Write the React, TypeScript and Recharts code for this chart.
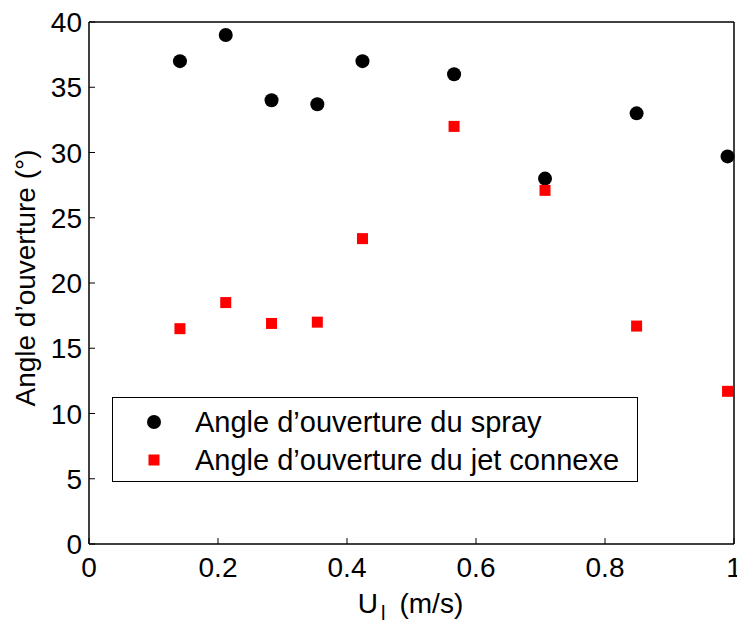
import { Label, Legend, Scatter, ScatterChart, XAxis, YAxis } from "recharts";

// U_l (m/s)
const uL = [0.141, 0.212, 0.283, 0.354, 0.424, 0.566, 0.707, 0.849, 0.99];
// opening angles (deg)
const sprayAngle = [37.0, 39.0, 34.0, 33.7, 37.0, 36.0, 28.0, 33.0, 29.7];
const jetAngle = [16.5, 18.5, 16.9, 17.0, 23.4, 32.0, 27.1, 16.7, 11.7];

const xTicks = [0, 0.2, 0.4, 0.6, 0.8, 1];
const yTicks = [0, 5, 10, 15, 20, 25, 30, 35, 40];
const seriesNames = [
  "Angle d’ouverture du spray",
  "Angle d’ouverture du jet connexe",
];

const sprayData = uL.map((x, i) => ({ x, y: sprayAngle[i] }));
const jetData = uL.map((x, i) => ({ x, y: jetAngle[i] }));

const FONT = "Liberation Sans, Arial, Helvetica, sans-serif";
const TICK_LEN = 6;
const AXIS = { stroke: "#000", strokeWidth: 1.5 };

const BottomTick = (p: any) => (
  <g>
    <line x1={p.x} x2={p.x} y1={p.y} y2={p.y - TICK_LEN} stroke="#000" />
    <text
      x={p.x}
      y={p.y + 33}
      textAnchor="middle"
      fontSize={28}
      fontFamily={FONT}
      fill="#000"
    >
      {String(p.payload.value)}
    </text>
  </g>
);

const LeftTick = (p: any) => (
  <g>
    <line x1={p.x} x2={p.x + TICK_LEN} y1={p.y} y2={p.y} stroke="#000" />
    <text
      x={p.x - 7}
      y={p.y + 10}
      textAnchor="end"
      fontSize={28}
      fontFamily={FONT}
      fill="#000"
    >
      {String(p.payload.value)}
    </text>
  </g>
);

const TopTick = (p: any) => (
  <line x1={p.x} x2={p.x} y1={p.y} y2={p.y + TICK_LEN} stroke="#000" />
);

const RightTick = (p: any) => (
  <line x1={p.x} x2={p.x - TICK_LEN} y1={p.y} y2={p.y} stroke="#000" />
);

const Dot = (p: any) => <circle cx={p.cx} cy={p.cy} r={7} fill="#000" />;
const Square = (p: any) => (
  <rect x={p.cx - 5.5} y={p.cy - 5.5} width={11} height={11} fill="#ff0000" />
);

const YLabel = (p: any) => {
  const vb = p.viewBox;
  const x = vb.x + 35;
  const y = vb.y + vb.height / 2 - 5;
  return (
    <text
      x={x}
      y={y}
      transform={`rotate(-90, ${x}, ${y})`}
      textAnchor="middle"
      fontSize={28}
      fontFamily={FONT}
      fill="#000"
    >
      Angle d’ouverture (°)
    </text>
  );
};

const XLabel = (p: any) => {
  const vb = p.viewBox;
  return (
    <text
      x={vb.x + vb.width / 2 - 1}
      y={vb.y + 69}
      textAnchor="middle"
      fontSize={28}
      fontFamily={FONT}
      fill="#000"
    >
      U
      <tspan dx={3} dy={7} fontSize={20}>
        l
      </tspan>
      <tspan dx={14} dy={-7}>
        (m/s)
      </tspan>
    </text>
  );
};

const LegendBox = (props: any) => {
  const items = [...(props.payload || [])].sort(
    (a: any, b: any) =>
      seriesNames.indexOf(a.value) - seriesNames.indexOf(b.value)
  );
  return (
    <div
      style={{
        width: 526,
        height: 85,
        boxSizing: "border-box",
        border: "1.5px solid #000",
        background: "#fff",
        position: "relative",
        fontFamily: FONT,
        fontSize: 29,
        color: "#000",
      }}
    >
      {items.map((e: any, i: number) => (
        <div
          key={e.value}
          style={{
            position: "absolute",
            left: 0,
            top: 5 + i * 38,
            height: 38,
            display: "flex",
            alignItems: "center",
            whiteSpace: "nowrap",
          }}
        >
          <svg width={20} height={20} style={{ marginLeft: 31 }}>
            {e.value === seriesNames[0] ? (
              <circle cx={10} cy={10} r={7} fill="#000" />
            ) : (
              <rect x={4.5} y={4.5} width={11} height={11} fill="#ff0000" />
            )}
          </svg>
          <span style={{ marginLeft: 31 }}>{e.value}</span>
        </div>
      ))}
    </div>
  );
};

export default function App() {
  return (
    <div
      style={{
        position: "absolute",
        left: 0,
        top: 0,
        width: 737,
        height: 621,
        background: "#fff",
      }}
    >
      <ScatterChart
        width={737}
        height={621}
        margin={{ top: 0, right: 0, bottom: 0, left: 0 }}
      >
        <XAxis
          xAxisId="b"
          type="number"
          dataKey="x"
          domain={[0, 1]}
          ticks={xTicks}
          orientation="bottom"
          height={77}
          axisLine={AXIS}
          tickLine={false}
          tickSize={0}
          tickMargin={0}
          tick={BottomTick}
          interval={0}
        >
          <Label content={XLabel} />
        </XAxis>
        <XAxis
          xAxisId="t"
          type="number"
          dataKey="x"
          domain={[0, 1]}
          ticks={xTicks}
          orientation="top"
          height={22}
          axisLine={AXIS}
          tickLine={false}
          tickSize={0}
          tickMargin={0}
          tick={TopTick}
          interval={0}
        />
        <YAxis
          yAxisId="l"
          type="number"
          dataKey="y"
          domain={[0, 40]}
          ticks={yTicks}
          orientation="left"
          width={89}
          axisLine={AXIS}
          tickLine={false}
          tickSize={0}
          tickMargin={0}
          tick={LeftTick}
          interval={0}
        >
          <Label content={YLabel} />
        </YAxis>
        <YAxis
          yAxisId="r"
          type="number"
          dataKey="y"
          domain={[0, 40]}
          ticks={yTicks}
          orientation="right"
          width={3}
          axisLine={AXIS}
          tickLine={false}
          tickSize={0}
          tickMargin={0}
          tick={RightTick}
          interval={0}
        />
        <Legend
          layout="vertical"
          align="center"
          verticalAlign="middle"
          content={LegendBox}
          wrapperStyle={{ left: 112, top: 397, width: 526, height: 85 }}
        />
        <Scatter
          name={seriesNames[0]}
          data={sprayData}
          xAxisId="b"
          yAxisId="l"
          fill="#000"
          shape={Dot}
          isAnimationActive={false}
        />
        <Scatter
          name={seriesNames[1]}
          data={jetData}
          xAxisId="b"
          yAxisId="l"
          fill="#ff0000"
          shape={Square}
          isAnimationActive={false}
        />
      </ScatterChart>
    </div>
  );
}
